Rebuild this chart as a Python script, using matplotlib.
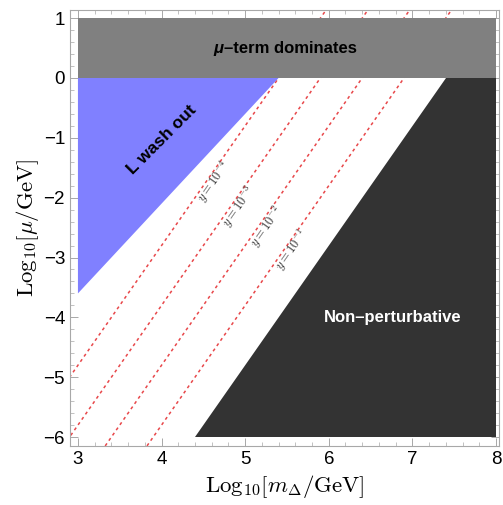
import numpy as np
import matplotlib
matplotlib.use("Agg")
import matplotlib.pyplot as plt
from matplotlib.ticker import MultipleLocator

plt.rcParams['mathtext.fontset'] = 'cm'
plt.rcParams['font.family'] = ['Liberation Sans', 'DejaVu Sans']

# ---- data ----
x_range = [3.0, 8.0]          # Log10[m_Delta/GeV]
y_range = [-6.0, 1.0]         # Log10[mu/GeV]
mu_term_y = [0.0, 1.0]        # mu-term dominates band
washout_slope = 1.5           # boundary: y = slope*(x - x0)
washout_x0 = 5.4
nonpert_slope = 2.0           # boundary: y = slope*(x - x0)
nonpert_x0 = 7.4
yuk_slope = 2.0
yuk_x0 = [5.4, 5.9, 6.4, 6.9]
yuk_labels = [r'$y=10^{-4}$', r'$y=10^{-3}$', r'$y=10^{-2}$', r'$y=10^{-1}$']
yuk_label_y = [-1.74, -2.16, -2.49, -2.88]

fig = plt.figure(figsize=(5.03, 5.05), dpi=100)
ax = fig.add_axes([0.139, 0.117, 0.853, 0.863])
ax.set_xlim(2.904, 8.036)
ax.set_ylim(-6.148, 1.134)

# Yukawa contour lines
yy = np.array([-6.148, 1.134])
for c in yuk_x0:
    xx = c + yy / yuk_slope
    ax.plot(xx, yy, color='#e8474a', lw=1.1, ls=(0, (2.0, 2.2)), zorder=2)

for c, lab, ly in zip(yuk_x0, yuk_labels, yuk_label_y):
    lx = c + ly / yuk_slope + 0.1
    ax.text(lx, ly, lab, fontsize=9, rotation=55, ha='center', va='center',
            color='#333333', zorder=3)

# L wash out region
y_w = washout_slope * (x_range[0] - washout_x0)
ax.fill([x_range[0], washout_x0, x_range[0]], [0, 0, y_w], color='#8080ff', lw=0, zorder=4)

# mu-term band
ax.fill_between(x_range, mu_term_y[0], mu_term_y[1], color='#808080', lw=0, zorder=4)

# Non-perturbative region
xb = nonpert_x0 + y_range[0] / nonpert_slope
xt = nonpert_x0
ax.fill([xb, x_range[1], x_range[1], xt], [y_range[0], y_range[0], 0, 0],
        color='#333333', lw=0, zorder=4)

ax.text(4.74, 0.5, 'μ', fontsize=12, fontweight='bold', fontstyle='italic',
        ha='right', va='center', zorder=5)
ax.text(4.75, 0.5, '–term dominates', fontsize=12, fontweight='bold',
        ha='left', va='center', zorder=5)
ax.text(4.0, -1.04, 'L wash out', fontsize=12.5, fontweight='bold', rotation=45,
        ha='center', va='center', zorder=5)
ax.text(6.76, -4.01, 'Non–perturbative', fontsize=12, fontweight='bold',
        color='white', ha='center', va='center', zorder=5)

# frame & ticks
for s in ax.spines.values():
    s.set_color('#a8a8a8')
    s.set_linewidth(0.8)
ax.xaxis.set_major_locator(MultipleLocator(1))
ax.xaxis.set_minor_locator(MultipleLocator(0.2))
ax.yaxis.set_major_locator(MultipleLocator(1))
ax.yaxis.set_minor_locator(MultipleLocator(0.2))
ax.tick_params(which='both', direction='in', top=True, right=True,
               color='#a8a8a8', labelsize=13.5)
ax.tick_params(which='major', length=6, width=0.7)
ax.tick_params(which='minor', length=3, width=0.5)
ax.set_xticks([3, 4, 5, 6, 7, 8])
ax.set_xticklabels(['3', '4', '5', '6', '7', '8'])
ax.set_yticks([1, 0, -1, -2, -3, -4, -5, -6])
ax.set_yticklabels(['1', '0', '−1', '−2', '−3', '−4', '−5', '−6'])

ax.set_xlabel(r'$\mathrm{Log}_{10}[m_\Delta/\mathrm{GeV}]$', fontsize=16.5, labelpad=4)
ax.set_ylabel(r'$\mathrm{Log}_{10}[\mu/\mathrm{GeV}]$', fontsize=16.5, labelpad=2)

fig.savefig('out.png', dpi=100)
